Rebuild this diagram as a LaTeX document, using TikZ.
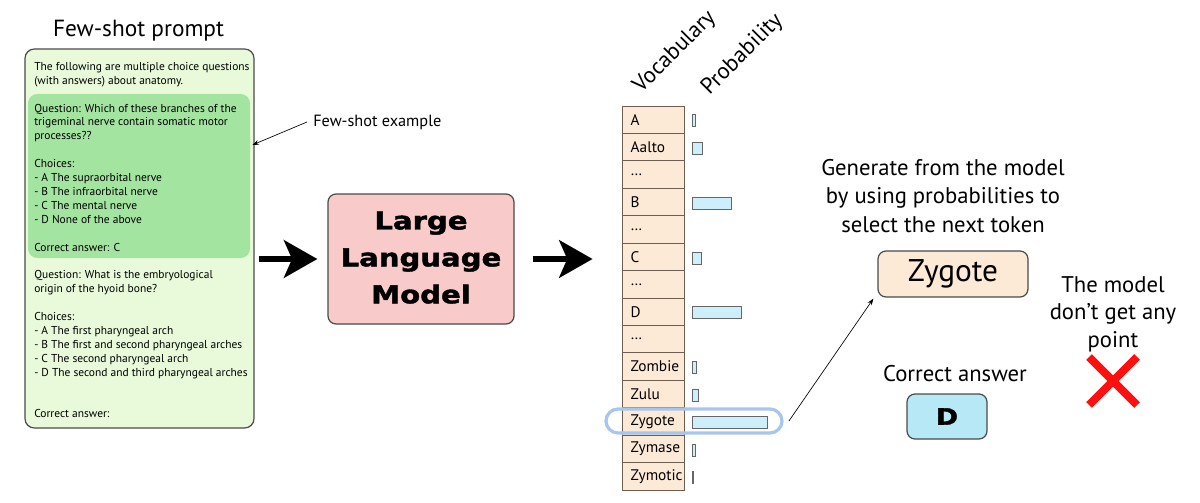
\documentclass[tikz,border=0pt]{standalone}
\usepackage{fontspec}
\setmainfont{PT Sans}
\newfontfamily\heavy{DejaVu Sans}[FakeStretch=1.18, BoldFeatures={FakeBold=1.6}]
\usetikzlibrary{arrows.meta}
\definecolor{promptbg}{HTML}{E8FADA}
\definecolor{examplebg}{HTML}{A3E4A0}
\definecolor{llmbg}{HTML}{F9CACA}
\definecolor{peach}{HTML}{FDEAD6}
\definecolor{barblue}{HTML}{CDEFFB}
\definecolor{dbox}{HTML}{B7E8F5}
\definecolor{hlblue}{HTML}{A6C6F0}
\definecolor{edge}{HTML}{4A4A4A}
\definecolor{celledge}{HTML}{6E5E50}
\definecolor{xred}{HTML}{FF1010}
\tikzset{
  box/.style={draw=edge, line width=0.9pt, rounded corners=6pt},
  cell/.style={draw=celledge, line width=0.6pt, fill=peach, inner xsep=3.25pt,
    inner ysep=0pt, minimum height=20.57pt, font=\fontsize{11.5}{13}\selectfont},
  bar/.style={draw=gray!80!black, line width=0.5pt, fill=barblue},
  bigarrow/.style={line width=5pt, -{Stealth[length=25pt, width=28pt, inset=6pt]}},
  thinarrow/.style={line width=0.5pt, -{Stealth[length=5pt, width=3.5pt]}},
  ptext/.style={anchor=mid west, inner sep=0pt, font=\fontsize{8.6}{10}\selectfont},
  bigtext/.style={font=\fontsize{17}{21.4}\selectfont, align=center},
  vlabel/.style={anchor=south west, inner sep=0pt, font=\fontsize{17}{20}\selectfont},
}
\begin{document}
\begin{tikzpicture}[x=0.75pt, y=-0.75pt]
\useasboundingbox (0,0) rectangle (1200,503);

% Few-shot prompt
\node[font=\fontsize{17.5}{20}\selectfont] (title) at (138.5,31) {Few-shot prompt};
\node[box, fill=promptbg, minimum width=171.75pt, minimum height=284.25pt, rounded corners=7pt] (prompt) at (139.5,238.5) {};
\node[fill=examplebg, minimum width=166.5pt, minimum height=123pt, rounded corners=7pt, inner sep=0pt] (ex) at (139,176) {};
\foreach \t [count=\i from 0] in {
  The following are multiple choice questions,
  (with answers) about anatomy.,
  {},
  Question: Which of these branches of the,
  trigeminal nerve contain somatic motor,
  processes??,
  {},
  Choices:,
  - A The supraorbital nerve,
  - B The infraorbital nerve,
  - C The mental nerve,
  - D None of the above,
  {},
  Correct answer: C,
  {},
  Question: What is the embryological,
  origin of the hyoid bone?,
  {},
  Choices:,
  - A The first pharyngeal arch,
  - B The first and second pharyngeal arches,
  - C The second pharyngeal arch,
  - D The second and third pharyngeal arches,
  {},
  {},
  Correct answer:}
{
  \node[ptext] (p\i) at (34,{67+13.9*\i}) {\t};
}

% Few-shot example label
\node[anchor=west, font=\fontsize{12.2}{14}\selectfont, inner sep=0pt] (fse) at (313,122) {Few-shot example};
\draw[thinarrow] ([xshift=-4.5pt]fse.west) -- ([shift={(2,-31)}]ex.east);

% LLM
\node[box, fill=llmbg, minimum width=139.5pt, minimum height=97.5pt] (llm) at (421,259)
  {\heavy\bfseries\fontsize{18.5}{27.7}\selectfont\begin{tabular}{@{}c@{}}Large\\Language\\Model\end{tabular}};

% Vocabulary column
\foreach \w [count=\i from 0] in {A,Aalto,\dots,B,\dots,C,\dots,D,\dots,Zombie,Zulu,Zygote,Zymase,Zymotic}
{
  \node[cell] (v\i) at (653,{106+27.43*(\i+0.5)}) {\makebox[40pt][l]{\hspace*{3.3pt}\w}};
}
\node[vlabel] (vocab) at (630,97) {\rotatebox{45}{Vocabulary}};
\node[vlabel] (prob) at (698,99) {\rotatebox{45}{Probability}};

% Probability bars
\foreach \r/\w in {0/3,1/10,3/39,5/9,7/49,9/4,10/6,11/75,12/3,13/0.6}
{
  \path (v\r.east) ++(8,1) coordinate (b\r);
  \draw[bar] ([yshift=-4.5pt]b\r) rectangle ++(\w,-12);
}

% highlight around Zygote
\node[draw=hlblue, line width=2.4pt, rounded corners=9pt, minimum width=132pt, minimum height=18pt, inner sep=0pt] (hl) at (694,421) {};

% big arrows
\draw[bigarrow, shorten <=3pt, shorten >=7.5pt] (prompt.east |- llm.west) -- (llm.west);
\draw[bigarrow, shorten <=13.5pt, shorten >=21.75pt] (llm.east) -- (v0.west |- llm.east);

% right side
\node[bigtext] (gen) at (943,196) {Generate from the model\\by using probabilities to\\select the next token};
\node[box, fill=peach, minimum width=112.5pt, minimum height=34.5pt, font=\fontsize{23.5}{26}\selectfont] (zy) at (953,274) {Zygote};
\draw[thinarrow] ([xshift=4pt]hl.east) -- ([shift={(-4,1)}]zy.south west);
\node[font=\fontsize{17}{20}\selectfont] (ca) at (955,374) {Correct answer};
\node[box, fill=dbox, minimum width=60pt, minimum height=33.75pt] (dd) at (947,416.5) {\heavy\bfseries\fontsize{17}{20}\selectfont D};
\node[bigtext, font=\fontsize{17}{20.6}\selectfont] (nopt) at (1113,314) {The model\\don’t get any\\point};
\coordinate (xc) at (1113,381);
\draw[xred, line width=6pt] ([shift={(-24,-24)}]xc) -- ([shift={(24,24)}]xc);
\draw[xred, line width=6pt] ([shift={(24,-24)}]xc) -- ([shift={(-24,24)}]xc);
\end{tikzpicture}
\end{document}
